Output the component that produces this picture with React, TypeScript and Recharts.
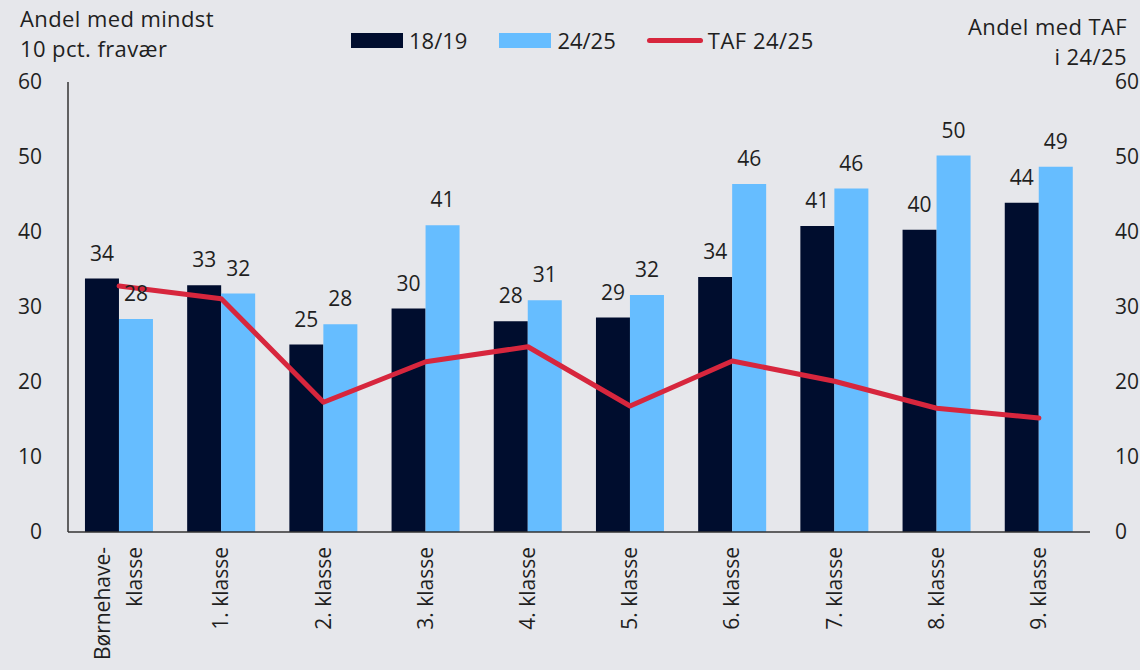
import React from 'react';
import { Bar, ComposedChart, LabelList, Line, XAxis, YAxis } from 'recharts';

const categories = ['Børnehave-\nklasse', '1. klasse', '2. klasse', '3. klasse', '4. klasse', '5. klasse', '6. klasse', '7. klasse', '8. klasse', '9. klasse'];
const share1819 = [33.8, 32.9, 25.0, 29.8, 28.1, 28.6, 34.0, 40.8, 40.3, 43.9];
const share2425 = [28.4, 31.8, 27.7, 40.9, 30.9, 31.6, 46.4, 45.8, 50.2, 48.7];
const taf2425 = [32.8, 31.1, 17.3, 22.7, 24.7, 16.8, 22.8, 20.1, 16.5, 15.2];
const yTicks = [0, 10, 20, 30, 40, 50, 60];

const data = categories.map((name, i) => ({
  name,
  s1819: share1819[i],
  s2425: share2425[i],
  taf: taf2425[i],
}));

const FONT = '"Open Sans", sans-serif';
const TEXT = '#1f1f1f';
const NAVY = '#000d2e';
const LIGHT = '#66bdff';
const RED = '#d7263d';

const XTick = ({ x, y, payload }: any) => {
  const lines = String(payload.value).split('\n');
  const gap = 32;
  return (
    <g transform={`translate(${x},${y + 7})`}>
      {lines.map((line, i) => (
        <text
          key={i}
          transform="rotate(-90)"
          textAnchor="end"
          dy={(i - (lines.length - 1) / 2) * gap + 7}
          fontSize={21}
          fontFamily={FONT}
          fill={TEXT}
        >
          {line}
        </text>
      ))}
    </g>
  );
};

// legend drawn outside the chart so it doesn't push the plot down
const ChartLegend = () => (
  <div style={{ position: 'absolute', left: 351, top: 25, display: 'flex', alignItems: 'center', fontFamily: FONT, fontSize: 22, color: TEXT }}>
    <span style={{ width: 52, height: 15, background: NAVY, marginRight: 6 }} />
    <span style={{ marginRight: 32 }}>18/19</span>
    <span style={{ width: 52, height: 15, background: LIGHT, marginRight: 6 }} />
    <span style={{ marginRight: 31 }}>24/25</span>
    <span style={{ width: 56, height: 5, borderRadius: 3, background: RED, marginRight: 5 }} />
    <span style={{ letterSpacing: 0.5 }}>TAF 24/25</span>
  </div>
);

const titleStyle: React.CSSProperties = {
  position: 'absolute',
  fontFamily: FONT,
  fontSize: 22,
  lineHeight: '30px',
  color: TEXT,
  letterSpacing: 0.4,
};

const fmt = (v: any) => Math.round(Number(v));

export default function App() {
  return (
    <div style={{ position: 'absolute', left: 0, top: 0, width: 1140, height: 670, background: '#e6e7eb', overflow: 'hidden' }}>
      <div style={{ ...titleStyle, left: 20, top: 3 }}>
        Andel med mindst<br />10 pct. fravær
      </div>
      <div style={{ ...titleStyle, right: 13, top: 11, textAlign: 'right' }}>
        Andel med TAF<br />i 24/25
      </div>
      <ChartLegend />
      <ComposedChart
        width={1140}
        height={670}
        data={data}
        margin={{ top: 82, right: 0, left: 0, bottom: 0 }}
        barCategoryGap="16.6%"
        barGap={0}
      >
        <XAxis
          dataKey="name"
          interval={0}
          height={138}
          tick={<XTick />}
          tickLine={false}
          axisLine={{ stroke: '#333', strokeWidth: 1.5 }}
        />
        <YAxis
          yAxisId="left"
          width={68}
          domain={[0, 60]}
          ticks={yTicks}
          tickLine={false}
          tickMargin={20}
          axisLine={{ stroke: '#333', strokeWidth: 1.5 }}
          tick={{ fontSize: 21, fontFamily: FONT, fill: TEXT }}
        />
        <YAxis
          yAxisId="right"
          orientation="right"
          width={50}
          domain={[0, 60]}
          ticks={yTicks}
          tickLine={false}
          axisLine={false}
          tickMargin={19}
          tick={{ fontSize: 21, fontFamily: FONT, fill: TEXT, textAnchor: 'start' }}
        />
        <Bar yAxisId="left" dataKey="s1819" name="18/19" fill={NAVY} isAnimationActive={false}>
          <LabelList dataKey="s1819" position="top" offset={18} formatter={fmt} style={{ fontSize: 21, fontFamily: FONT, fill: TEXT }} />
        </Bar>
        <Bar yAxisId="left" dataKey="s2425" name="24/25" fill={LIGHT} isAnimationActive={false}>
          <LabelList dataKey="s2425" position="top" offset={18} formatter={fmt} style={{ fontSize: 21, fontFamily: FONT, fill: TEXT }} />
        </Bar>
        <Line
          yAxisId="right"
          dataKey="taf"
          name="TAF 24/25"
          stroke={RED}
          strokeWidth={5}
          dot={false}
          strokeLinecap="round"
          strokeLinejoin="round"
          isAnimationActive={false}
        />
      </ComposedChart>
    </div>
  );
}
